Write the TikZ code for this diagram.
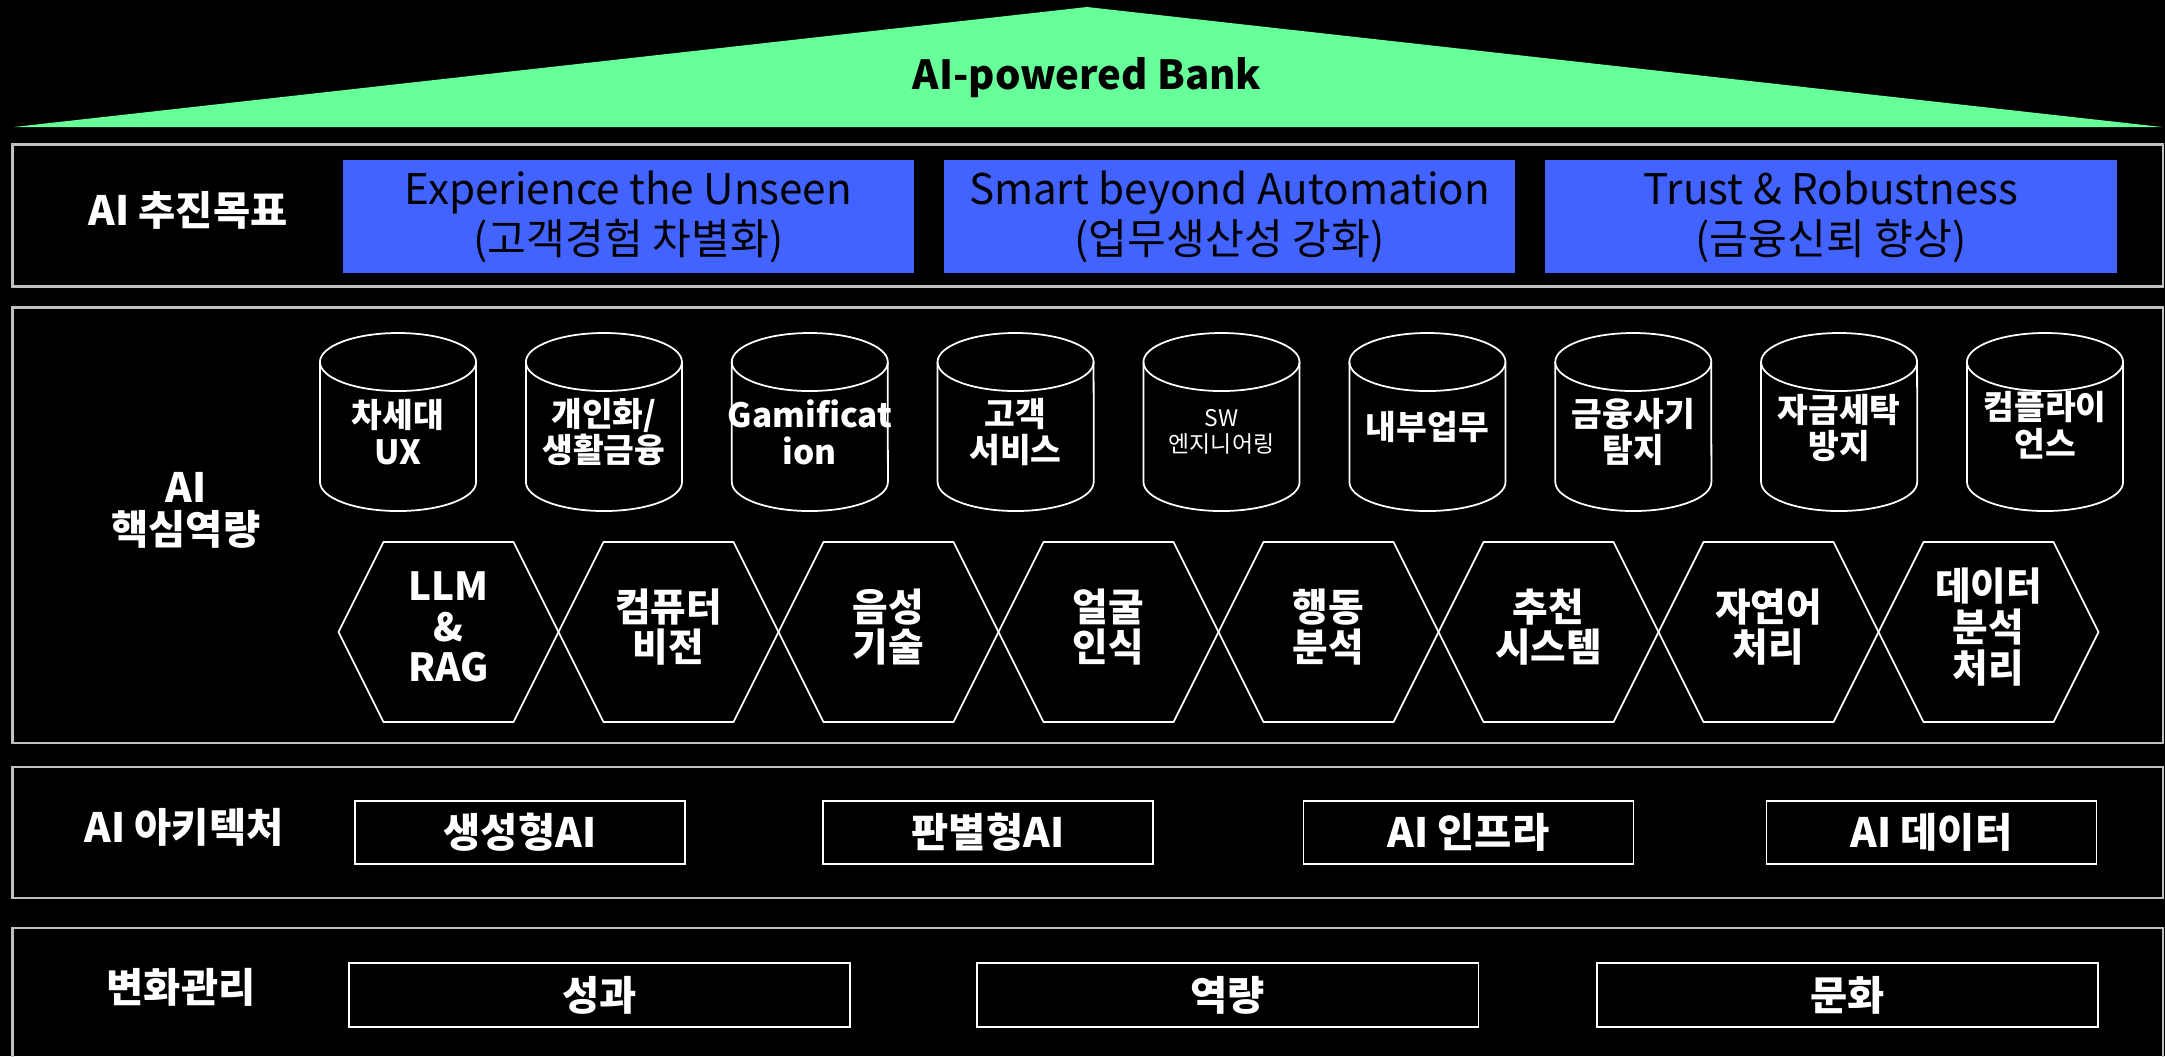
\documentclass[tikz,border=0pt]{standalone}
\usepackage{fontspec}
\setmainfont{Noto Sans CJK KR}
\definecolor{bankgreen}{RGB}{102,255,153}
\definecolor{goalblue}{RGB}{66,99,255}
\definecolor{rowgray}{RGB}{192,192,192}
\tikzset{
  rowframe/.style={draw=rowgray, line width=0.6pt},
  rowlabel/.style={text=white, align=center, font=\fontsize{11.5pt}{12pt}\selectfont\bfseries},
  goalbox/.style={fill=goalblue, minimum width=5.71cm, minimum height=1.13cm, inner sep=0pt,
    align=center, font=\fontsize{12pt}{14.2pt}\selectfont},
  cylline/.style={draw=white, line width=0.5pt},
  dbtext/.style={text=white, align=center, font=\fontsize{9.5pt}{10.5pt}\selectfont\bfseries},
  dbsmall/.style={text=white, align=center, font=\fontsize{6.5pt}{7.5pt}\selectfont},
  hextext/.style={text=white, align=center, font=\fontsize{11pt}{11.6pt}\selectfont\bfseries},
  archbox/.style={draw=white, line width=0.5pt, minimum width=3.3cm, minimum height=0.63cm,
    inner sep=0pt, text=white, font=\fontsize{11.5pt}{12pt}\selectfont\bfseries},
  mgmtbox/.style={archbox, minimum width=5.01cm, minimum height=0.64cm},
  dbcyl/.pic={
    \draw[cylline] (-78,-60) -- (-78,60) arc[start angle=180, end angle=360,
      x radius=0.78cm, y radius=0.29cm] -- (78,-60);
    \draw[cylline] (0,-60) ellipse[x radius=0.78cm, y radius=0.29cm];
  },
  hexcell/.pic={
    \draw[cylline] (-110,0) -- (-65,-90) -- (65,-90) -- (110,0) -- (65,90) -- (-65,90) -- cycle;
  }
}

\begin{document}
\begin{tikzpicture}[x=0.01cm, y=-0.01cm]
\fill[black] (0,0) rectangle (2165,1056);
\useasboundingbox (0,0) rectangle (2165,1056);
\clip (0,0) rectangle (2165,1056);

% roof
\fill[bankgreen] (14,127) -- (1087,7) -- (2162,127) -- cycle;
\node[font=\fontsize{11.4pt}{12pt}\selectfont\bfseries] (bank) at (1087,78) {AI-powered Bank};

% row frames
\draw[rowframe] (12.5,144.5) rectangle (2163,286.5);
\draw[rowframe] (12.5,307.5) rectangle (2163,743);
\draw[rowframe] (12.5,767) rectangle (2163,898);
\draw[rowframe] (12.5,928) rectangle (2163,1070);

% goals
\node[rowlabel] (goallabel) at (188,210) {AI 추진목표};
\node[goalbox] (goal1) at (628.5,216.5) {Experience the Unseen\\(고객경험 차별화)};
\node[goalbox] (goal2) at (1229.5,216.5) {Smart beyond Automation\\(업무생산성 강화)};
\node[goalbox] (goal3) at (1831,216.5) {Trust \& Robustness\\(금융신뢰 향상)};

% core capabilities
\node[rowlabel] (corelabel) at (186,510) {AI\\핵심역량};

\pic at (398,422) {dbcyl};
\pic at (603.9,422) {dbcyl};
\pic at (809.8,422) {dbcyl};
\pic at (1015.6,422) {dbcyl};
\pic at (1221.5,422) {dbcyl};
\pic at (1427.4,422) {dbcyl};
\pic at (1633.3,422) {dbcyl};
\pic at (1839.1,422) {dbcyl};
\pic at (2045,422) {dbcyl};
\node[dbtext] (db1) at (398,432) {차세대\\UX};
\node[dbtext] (db2) at (603.9,432) {개인화/\\생활금융};
\node[dbtext] (db3) at (809.8,432) {Gamificat\\ion};
\node[dbtext] (db4) at (1015.6,432) {고객\\서비스};
\node[dbsmall] (db5) at (1221.5,432) {SW\\엔지니어링};
\node[dbtext] (db6) at (1427.4,427) {내부업무};
\node[dbtext] (db7) at (1633.3,432) {금융사기\\탐지};
\node[dbtext] (db8) at (1839.1,428) {자금세탁\\방지};
\node[dbtext] (db9) at (2045,425) {컴플라이\\언스};

\pic at (448.5,632) {hexcell};
\pic at (668.5,632) {hexcell};
\pic at (888.5,632) {hexcell};
\pic at (1108.5,632) {hexcell};
\pic at (1328.5,632) {hexcell};
\pic at (1548.5,632) {hexcell};
\pic at (1768.5,632) {hexcell};
\pic at (1988.5,632) {hexcell};
\node[hextext] (hex1) at (448.5,627) {LLM\\\&\\RAG};
\node[hextext] (hex2) at (668.5,627) {컴퓨터\\비전};
\node[hextext] (hex3) at (888.5,627) {음성\\기술};
\node[hextext] (hex4) at (1108.5,627) {얼굴\\인식};
\node[hextext] (hex5) at (1328.5,627) {행동\\분석};
\node[hextext] (hex6) at (1548.5,627) {추천\\시스템};
\node[hextext] (hex7) at (1768.5,627) {자연어\\처리};
\node[hextext] (hex8) at (1988.5,627) {데이터\\분석\\처리};

% architecture
\node[rowlabel] (archlabel) at (184,827) {AI 아키텍처};
\node[archbox] (arch1) at (520,832.5) {생성형AI};
\node[archbox] (arch2) at (988,832.5) {판별형AI};
\node[archbox] (arch3) at (1468.5,832.5) {AI 인프라};
\node[archbox] (arch4) at (1931.5,832.5) {AI 데이터};

% change management
\node[rowlabel] (mgmtlabel) at (181,987) {변화관리};
\node[mgmtbox] (mgmt1) at (599.5,995) {성과};
\node[mgmtbox] (mgmt2) at (1227.8,995) {역량};
\node[mgmtbox] (mgmt3) at (1847.5,995) {문화};
\end{tikzpicture}
\end{document}
